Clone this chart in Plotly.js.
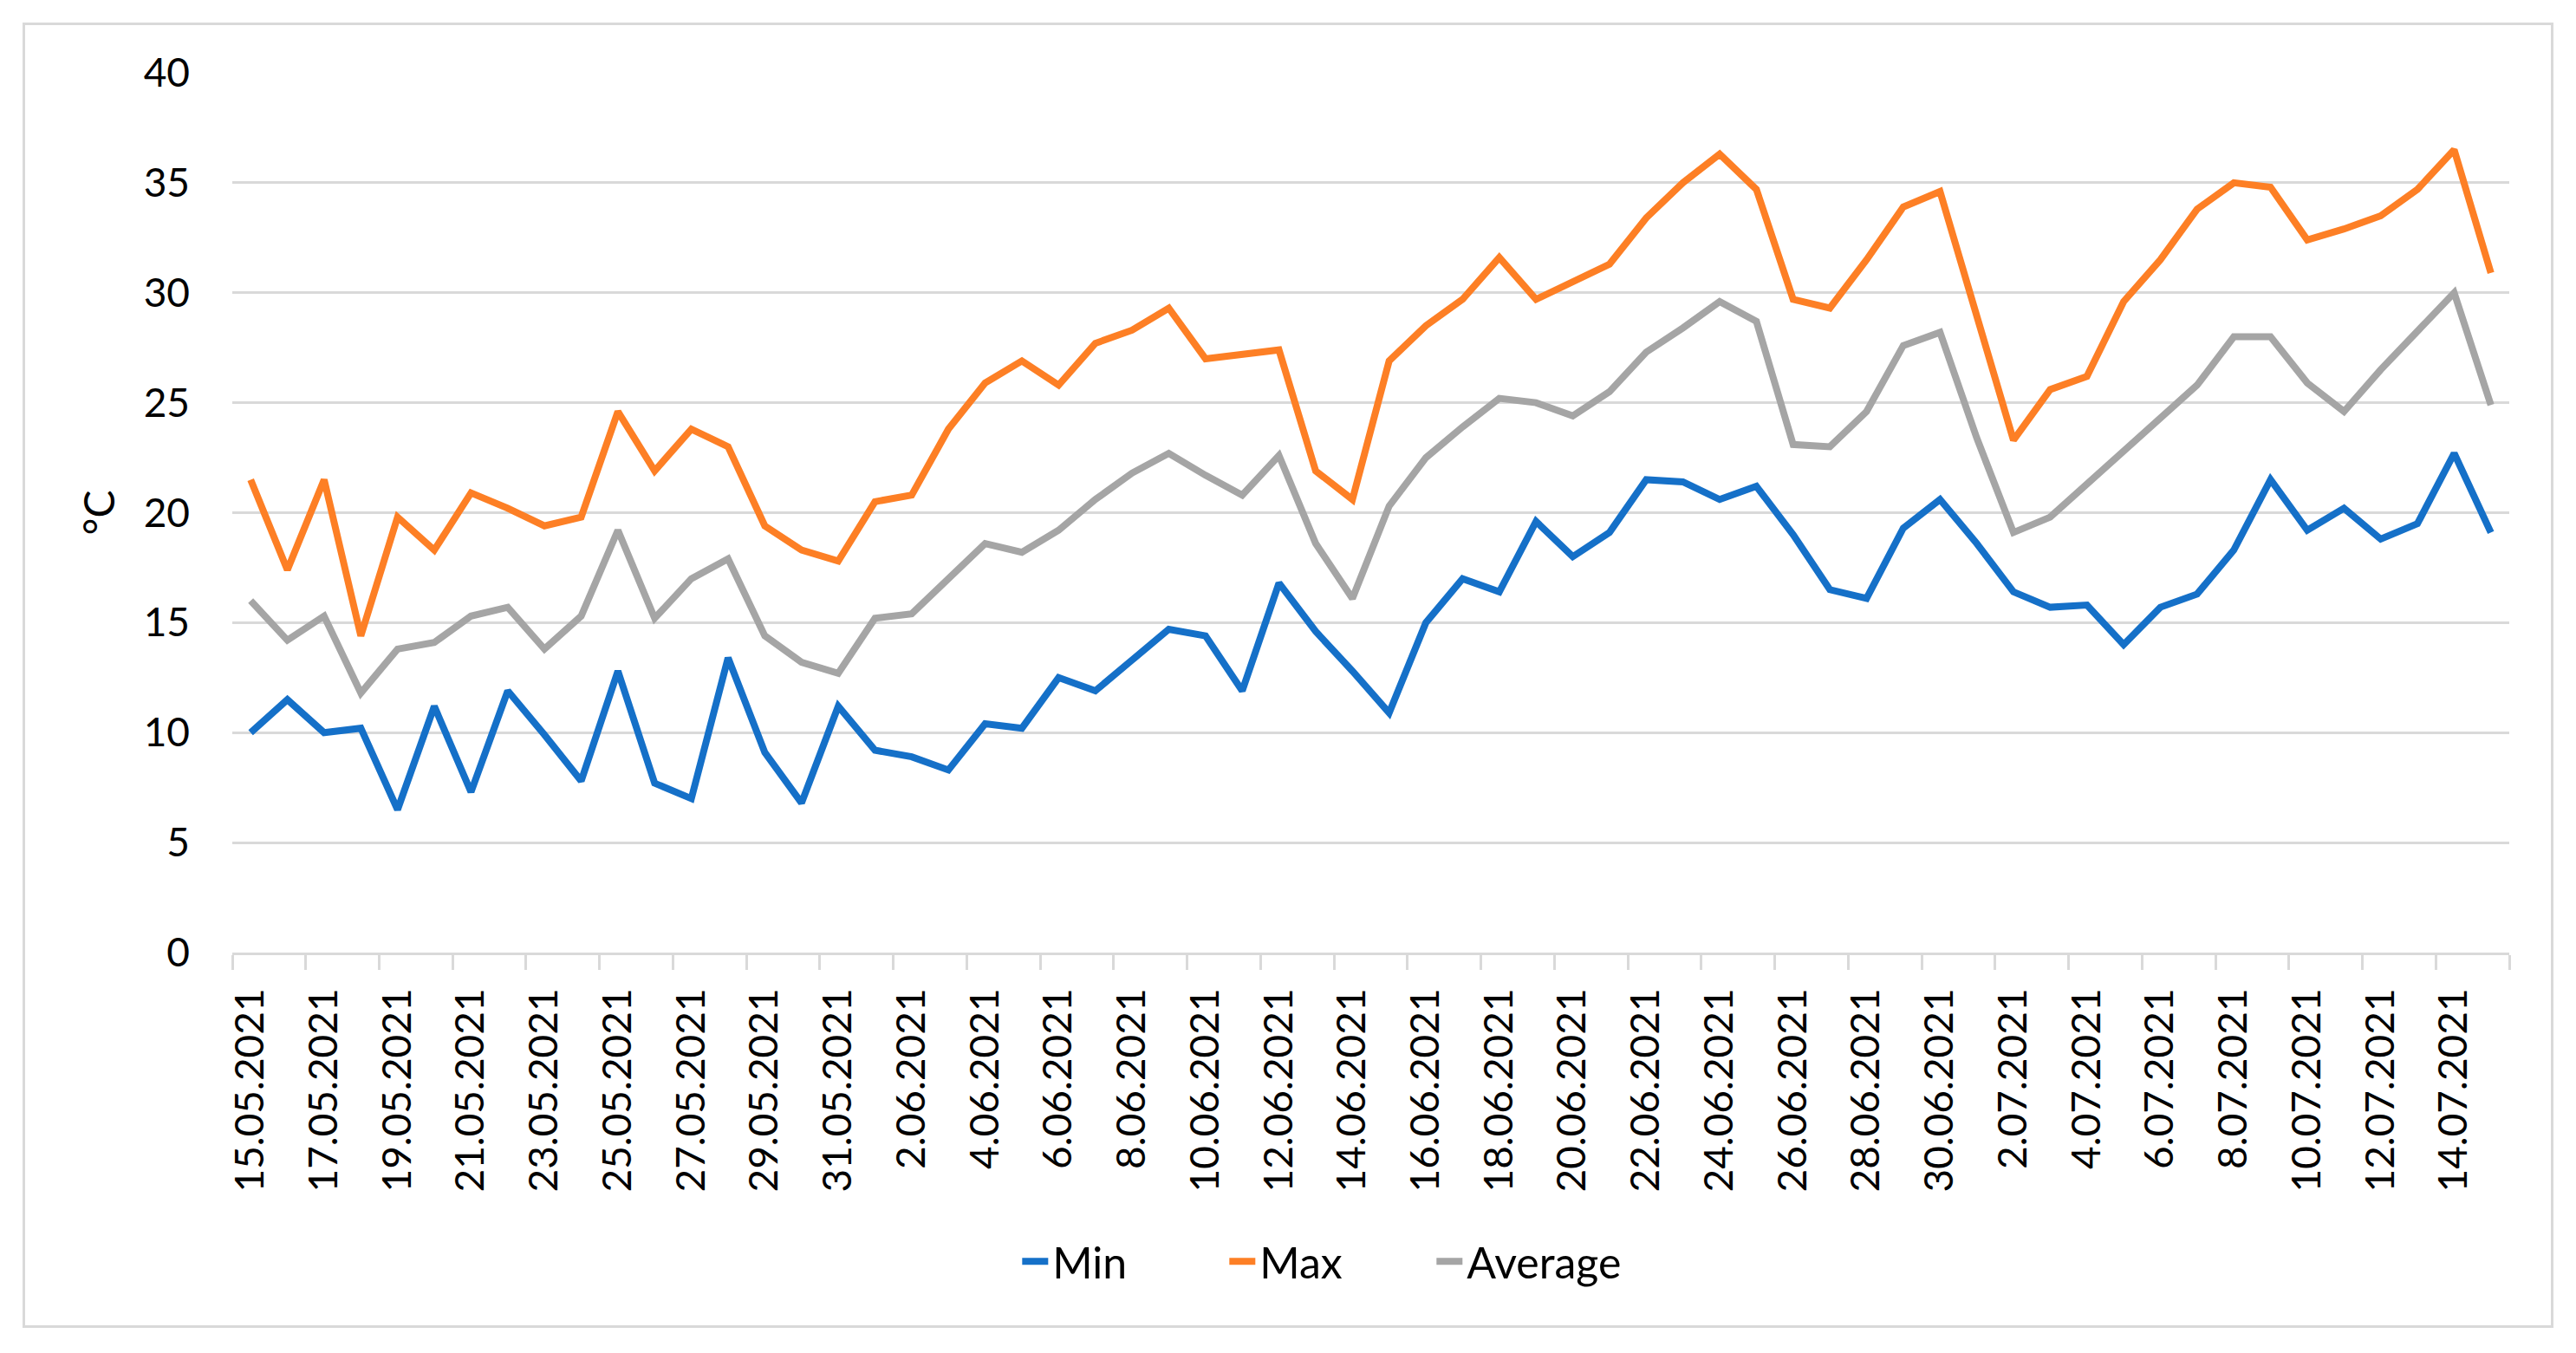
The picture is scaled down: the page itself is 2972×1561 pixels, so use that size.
<!DOCTYPE html>
<html>
<head>
<meta charset="utf-8">
<script src="https://cdn.plot.ly/plotly-3.0.1.min.js"></script>
<style>
  html, body { margin: 0; padding: 0; background: #ffffff; }
  #wrap { position: relative; width: 2972px; height: 1561px; }
  #chart { position: absolute; left: 0; top: 0; width: 2972px; height: 1561px; }
  #frame { position: absolute; left: 26px; top: 26px; width: 2914px; height: 1500px;
           border: 3px solid #d9d9d9; pointer-events: none; }
</style>
</head>
<body>
<div id="wrap">
  <div id="chart"></div>
  <div id="frame"></div>
</div>
<script>
const dates = [
  "15.05.2021","16.05.2021","17.05.2021","18.05.2021","19.05.2021","20.05.2021","21.05.2021","22.05.2021",
  "23.05.2021","24.05.2021","25.05.2021","26.05.2021","27.05.2021","28.05.2021","29.05.2021","30.05.2021",
  "31.05.2021","1.06.2021","2.06.2021","3.06.2021","4.06.2021","5.06.2021","6.06.2021","7.06.2021",
  "8.06.2021","9.06.2021","10.06.2021","11.06.2021","12.06.2021","13.06.2021","14.06.2021","15.06.2021",
  "16.06.2021","17.06.2021","18.06.2021","19.06.2021","20.06.2021","21.06.2021","22.06.2021","23.06.2021",
  "24.06.2021","25.06.2021","26.06.2021","27.06.2021","28.06.2021","29.06.2021","30.06.2021","1.07.2021",
  "2.07.2021","3.07.2021","4.07.2021","5.07.2021","6.07.2021","7.07.2021","8.07.2021","9.07.2021",
  "10.07.2021","11.07.2021","12.07.2021","13.07.2021","14.07.2021","15.07.2021"
];

const minT = [
  10.0, 11.5, 10.0, 10.2, 6.5, 11.2, 7.3, 11.9, 9.9, 7.8, 12.8, 7.7, 7.0, 13.4, 9.1, 6.8,
  11.2, 9.2, 8.9, 8.3, 10.4, 10.2, 12.5, 11.9, 13.3, 14.7, 14.4, 11.9, 16.8, 14.6, 12.8,
  10.9, 15.0, 17.0, 16.4, 19.6, 18.0, 19.1, 21.5, 21.4, 20.6, 21.2, 19.0, 16.5, 16.1, 19.3, 20.6,
  18.6, 16.4, 15.7, 15.8, 14.0, 15.7, 16.3, 18.3, 21.5, 19.2, 20.2, 18.8, 19.5, 22.7, 19.1
];

const maxT = [
  21.5, 17.4, 21.5, 14.4, 19.8, 18.3, 20.9, 20.2, 19.4, 19.8, 24.6, 21.9, 23.8, 23.0, 19.4, 18.3,
  17.8, 20.5, 20.8, 23.8, 25.9, 26.9, 25.8, 27.7, 28.3, 29.3, 27.0, 27.2, 27.4, 21.9, 20.6,
  26.9, 28.5, 29.7, 31.6, 29.7, 30.5, 31.3, 33.4, 35.0, 36.3, 34.7, 29.7, 29.3, 31.5, 33.9, 34.6,
  29.0, 23.3, 25.6, 26.2, 29.6, 31.5, 33.8, 35.0, 34.8, 32.4, 32.9, 33.5, 34.7, 36.5, 30.9
];

const avgT = [
  16.0, 14.2, 15.3, 11.8, 13.8, 14.1, 15.3, 15.7, 13.8, 15.3, 19.2, 15.2, 17.0, 17.9, 14.4, 13.2,
  12.7, 15.2, 15.4, 17.0, 18.6, 18.2, 19.2, 20.6, 21.8, 22.7, 21.7, 20.8, 22.6, 18.6, 16.1,
  20.3, 22.5, 23.9, 25.2, 25.0, 24.4, 25.5, 27.3, 28.4, 29.6, 28.7, 23.1, 23.0, 24.6, 27.6, 28.2,
  23.4, 19.1, 19.8, 21.3, 22.7, 24.3, 25.8, 28.0, 28.0, 25.9, 24.6, 26.5, 28.3, 30.0, 24.9
];

const seriesNames = ["Min", "Max", "Average"];
const seriesColors = ["#1570c8", "#fd7f25", "#a5a5a5"];
const yTitle = "°C";

const FONT = "Lato, 'Open Sans', 'Liberation Sans', sans-serif";

const traces = [minT, maxT, avgT].map((vals, i) => ({
  type: "scatter",
  mode: "lines",
  name: seriesNames[i],
  x: dates,
  y: vals,
  line: { color: seriesColors[i], width: 8 },
  hoverinfo: "skip"
}));

const layout = {
  width: 2972,
  height: 1561,
  paper_bgcolor: "#ffffff",
  plot_bgcolor: "#ffffff",
  margin: { l: 268, r: 77, t: 84, b: 462, pad: 0 },
  showlegend: true,
  legend: {
    orientation: "h",
    x: 0.345, xanchor: "left",
    y: -0.351, yanchor: "middle",
    font: { family: FONT, size: 50, color: "#000000" },
    itemwidth: 30,
    entrywidth: 194,
    entrywidthmode: "pixels",
    tracegroupgap: 0
  },
  xaxis: {
    type: "category",
    range: [-0.5, dates.length - 0.5],
    tickmode: "linear",
    tick0: 0,
    dtick: 2,
    tickson: "boundaries",
    ticks: "outside",
    ticklen: 17,
    tickwidth: 3,
    tickcolor: "#d9d9d9",
    tickangle: -90,
    tickfont: { family: FONT, size: 46, color: "#000000" },
    ticklabelstandoff: 20,
    showgrid: false,
    showline: true,
    linecolor: "#d9d9d9",
    linewidth: 3,
    zeroline: false,
    fixedrange: true
  },
  yaxis: {
    range: [0, 40],
    tickmode: "linear",
    tick0: 0,
    dtick: 5,
    showgrid: true,
    gridcolor: "#d9d9d9",
    gridwidth: 3,
    zeroline: false,
    showline: false,
    ticks: "",
    tickfont: { family: FONT, size: 46, color: "#000000" },
    ticklabelstandoff: 48,
    title: { text: yTitle, font: { family: FONT, size: 48, color: "#000000" }, standoff: 17 },
    automargin: false,
    fixedrange: true
  }
};

Plotly.newPlot("chart", traces, layout, { staticPlot: true, displayModeBar: false });
</script>
</body>
</html>
